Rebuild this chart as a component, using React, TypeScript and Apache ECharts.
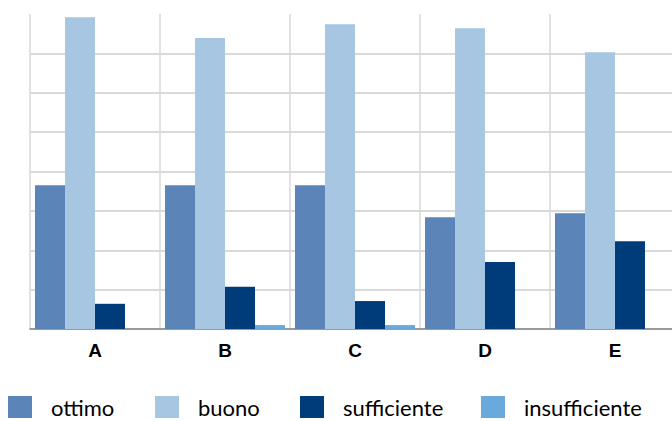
import React, { useEffect, useRef } from "react";
import * as echarts from "echarts";

const categories = ["A", "B", "C", "D", "E"];
const seriesNames = ["ottimo", "buono", "sufficiente", "insufficiente"];
const ottimo = [36.5, 36.5, 36.5, 28.4, 29.4];
const buono = [79.2, 73.9, 77.4, 76.4, 70.3];
const sufficiente = [6.4, 10.7, 7.1, 17.0, 22.3];
const insufficiente = [0, 1.0, 1.0, 0, 0];
const colors = ["#5b85b9", "#a6c6e2", "#003c7a", "#6aa9dc"];
const legendLeft = [8, 155, 300, 481];

export default function App() {
  const ref = useRef<HTMLDivElement>(null);
  useEffect(() => {
    if (!ref.current) return;
    const chart = echarts.init(ref.current, null, { renderer: "svg" });
    const values = [ottimo, buono, sufficiente, insufficiente];
    chart.setOption({
      animation: false,
      backgroundColor: "#ffffff",
      grid: {
        left: 30,
        top: 14,
        width: 650,
        height: 315,
        containLabel: false,
        outerBoundsMode: "none",
      },
      xAxis: {
        type: "category",
        data: categories,
        axisLine: { show: true, lineStyle: { color: "#858585", width: 1.5 } },
        axisTick: { show: false },
        axisLabel: {
          color: "#000",
          fontFamily: "Liberation Sans",
          fontWeight: "bold",
          fontSize: 19,
          margin: 12,
        },
        splitLine: { show: true, lineStyle: { color: "#d9d9d9", width: 1.5 } },
      },
      yAxis: {
        type: "value",
        min: 0,
        max: 80,
        interval: 10,
        axisLine: { show: false },
        axisTick: { show: false },
        axisLabel: { show: false },
        splitLine: {
          show: true,
          lineStyle: {
            color: [
              "#cccccc", "#cccccc", "#cccccc", "#cccccc", "#cccccc",
              "#cccccc", "#cccccc", "#cccccc", "rgba(0,0,0,0)",
            ],
            width: 1.5,
          },
        },
      },
      legend: seriesNames.map((n, i) => ({
        data: [n],
        left: legendLeft[i],
        top: 396,
        padding: 0,
        itemWidth: 24,
        itemHeight: 22,
        icon: "rect",
        textStyle: {
          fontFamily: "Lato",
          fontSize: 22,
          lineHeight: 20,
          color: "#000",
          padding: [0, 0, 0, 14],
        },
      })),
      series: seriesNames.map((n, i) => ({
        name: n,
        type: "bar",
        data: values[i],
        barGap: "0%",
        barCategoryGap: "7.7%",
        itemStyle: { color: colors[i] },
      })),
    });
    return () => chart.dispose();
  }, []);
  return (
    <div
      ref={ref}
      style={{ position: "fixed", left: 0, top: 0, width: 672, height: 421, overflow: "hidden" }}
    />
  );
}
